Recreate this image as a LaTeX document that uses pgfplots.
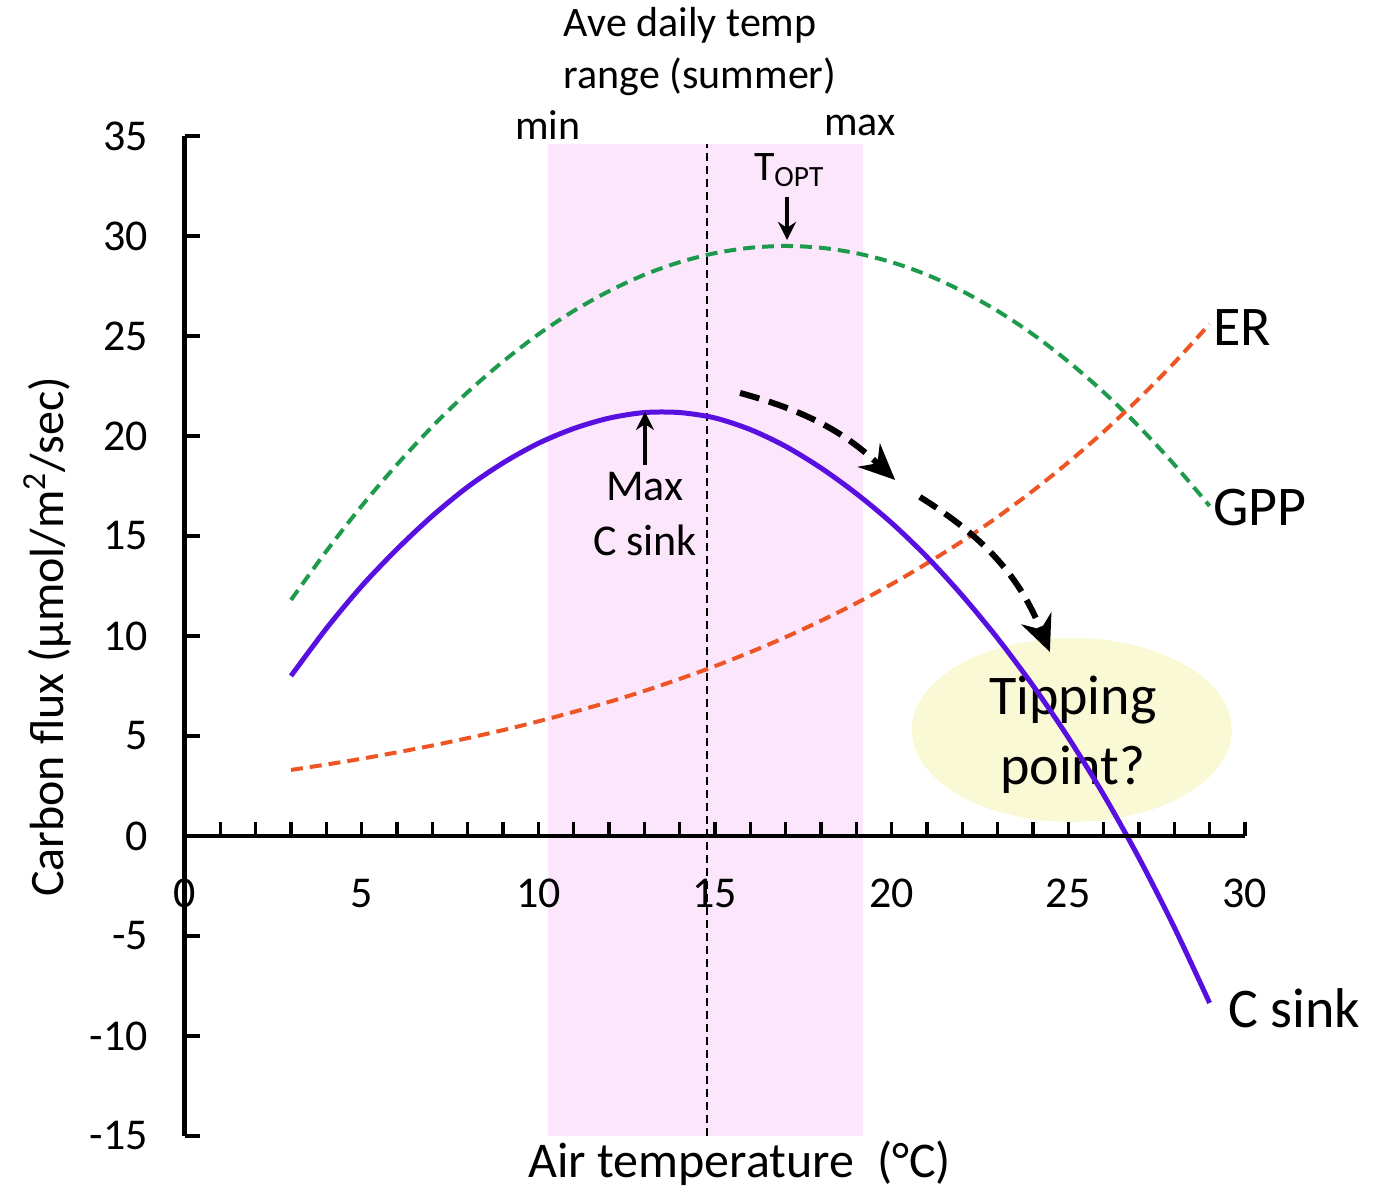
\documentclass[border=0pt]{standalone}
\usepackage{pgfplots}
\pgfplotsset{compat=1.18}
\usepackage{fontspec}
\setmainfont{Carlito}
\usetikzlibrary{arrows.meta}
\definecolor{gppc}{HTML}{1E9A4C}
\definecolor{erc}{HTML}{EE5524}
\definecolor{csc}{HTML}{5810E0}
\definecolor{bandc}{HTML}{FCE6FC}
\definecolor{ellc}{HTML}{F9F9D6}
\begin{document}
\begin{tikzpicture}
\begin{axis}[
  scale only axis, width=530pt, height=500pt,
  xmin=0, xmax=30, ymin=-15, ymax=35,
  axis x line=none, axis y line=left,
  every outer y axis line/.append style={line width=2.5pt,-},
  ytick={-15,-10,...,35},
  every tick/.append style={line width=1.6pt,black},
  major tick length=7.5pt,
  ytick align=inside,
  clip=false,
  /pgf/number format/assume math mode=true,
  ticklabel style={font=\fontsize{22}{26}\selectfont},
  yticklabel style={xshift=-15pt},
]
% bounding box matching reference proportions
\path (axis cs:-5.236,41.8) rectangle (axis cs:33.71,-17.65);
% summer band
\fill[bandc] (axis cs:10.27,-15) rectangle (axis cs:19.19,34.6);
\draw[line width=1.2pt, dash pattern=on 4pt off 2.5pt] (axis cs:14.77,-15) -- (axis cs:14.77,34.6);
% tipping ellipse
\fill[ellc] (axis cs:25.1,5.3) ellipse [x radius=80pt, y radius=46pt];
\node[font=\fontsize{28}{32}\selectfont] at (axis cs:25.13,6.8) {Tipping};
\node[font=\fontsize{28}{32}\selectfont] at (axis cs:25.13,3.3) {point?};
% GPP
\addplot[gppc, line width=2pt, dash pattern=on 6pt off 3.5pt, smooth] coordinates {
(3,11.80) (4,14.24) (5,16.50) (6,18.57) (7,20.47) (8,22.19) (9,23.72) (10,25.08)
(11,26.25) (12,27.24) (13,28.06) (14,28.69) (15,29.14) (16,29.41) (17,29.50)
(18,29.41) (19,29.14) (20,28.69) (21,28.06) (22,27.24) (23,26.25) (24,25.08)
(25,23.72) (26,22.19) (27,20.47) (28,18.57) (29,16.50)};
% ER
\addplot[erc, line width=2pt, dash pattern=on 6pt off 3.5pt, smooth] coordinates {
(3,3.30) (4,3.57) (5,3.86) (6,4.18) (7,4.52) (8,4.89) (9,5.29) (10,5.73)
(11,6.20) (12,6.70) (13,7.25) (14,7.85) (15,8.49) (16,9.19) (17,9.94)
(18,10.76) (19,11.64) (20,12.59) (21,13.63) (22,14.74) (23,15.95) (24,17.26)
(25,18.68) (26,20.21) (27,21.87) (28,23.66) (29,25.60)};
% C sink
\addplot[csc, line width=2.5pt, smooth] coordinates {
(3,8.00) (4,10.37) (5,12.49) (6,14.34) (7,16.00) (8,17.45) (9,18.65) (10,19.63)
(11,20.37) (12,20.89) (13,21.17) (14,21.17) (15,20.90) (16,20.32) (17,19.48)
(18,18.40) (19,17.12) (20,15.65) (21,13.95) (22,12.02) (23,9.88) (24,7.52)
(25,4.92) (26,2.06) (27,-1.10) (28,-4.57) (29,-8.35)};
% curved dashed arrows
\draw[line width=3pt, dash pattern=on 10pt off 5pt, -{Stealth[length=18pt,width=16pt]}]
  (axis cs:15.71,22.15) to[bend left=14] (axis cs:20.1,17.8);
\draw[line width=3pt, dash pattern=on 10pt off 5pt, -{Stealth[length=18pt,width=16pt]}]
  (axis cs:20.8,16.95) to[bend left=18] (axis cs:24.48,9.2);
% T_OPT
\node[font=\fontsize{21}{25}\selectfont] at (axis cs:17.1,33.3) {T\textsubscript{OPT}};
\draw[line width=1.6pt, -{Stealth[length=9pt,width=9pt]}] (axis cs:17.04,31.95) -- (axis cs:17.04,29.8);
% Max C sink
\draw[line width=1.6pt, -{Stealth[length=9pt,width=9pt]}] (axis cs:13.02,18.55) -- (axis cs:13.02,21.2);
\node[font=\fontsize{22}{26}\selectfont] at (axis cs:13.02,17.45) {Max};
\node[font=\fontsize{22}{26}\selectfont] at (axis cs:13.02,14.8) {C sink};
% top texts
\node[font=\fontsize{21}{25}\selectfont] at (axis cs:14.3,40.55) {Ave daily temp};
\node[font=\fontsize{21}{25}\selectfont] at (axis cs:14.58,37.95) {range (summer)};
\node[font=\fontsize{21}{25}\selectfont] at (axis cs:10.27,35.55) {min};
\node[font=\fontsize{21}{25}\selectfont] at (axis cs:19.1,35.55) {max};
% series labels
\node[font=\fontsize{28}{32}\selectfont, anchor=west, inner sep=0pt] at (axis cs:29.1,25.4) {ER};
\node[font=\fontsize{28}{32}\selectfont, anchor=west, inner sep=0pt] at (axis cs:29.1,16.4) {GPP};
\node[font=\fontsize{28}{32}\selectfont, anchor=west, inner sep=0pt] at (axis cs:29.52,-8.6) {C sink};
% axis labels
\node[font=\fontsize{24}{28}\selectfont, rotate=90] at (axis cs:-3.9,9.95) {Carbon flux (µmol/m\textsuperscript{2}/sec)};
\node[font=\fontsize{25}{29}\selectfont] at (axis cs:15.7,-16.35) {Air temperature\ \ (°C)};
\end{axis}
% x axis at y = 0
\begin{axis}[
  at={(0pt,150pt)}, anchor=south west,
  scale only axis, width=530pt, height=20pt,
  xmin=0, xmax=30, ymin=0, ymax=1,
  axis x line=bottom, axis y line=none,
  every outer x axis line/.append style={line width=2.2pt,-},
  xtick={0,5,...,30}, minor x tick num=4,
  every tick/.append style={line width=1.6pt,black},
  major tick length=7pt, minor tick length=7pt,
  xtick align=inside,
  clip=false,
  /pgf/number format/assume math mode=true,
  ticklabel style={font=\fontsize{22}{26}\selectfont},
  xticklabel style={yshift=-18pt},
]
\end{axis}
\end{tikzpicture}
\end{document}
